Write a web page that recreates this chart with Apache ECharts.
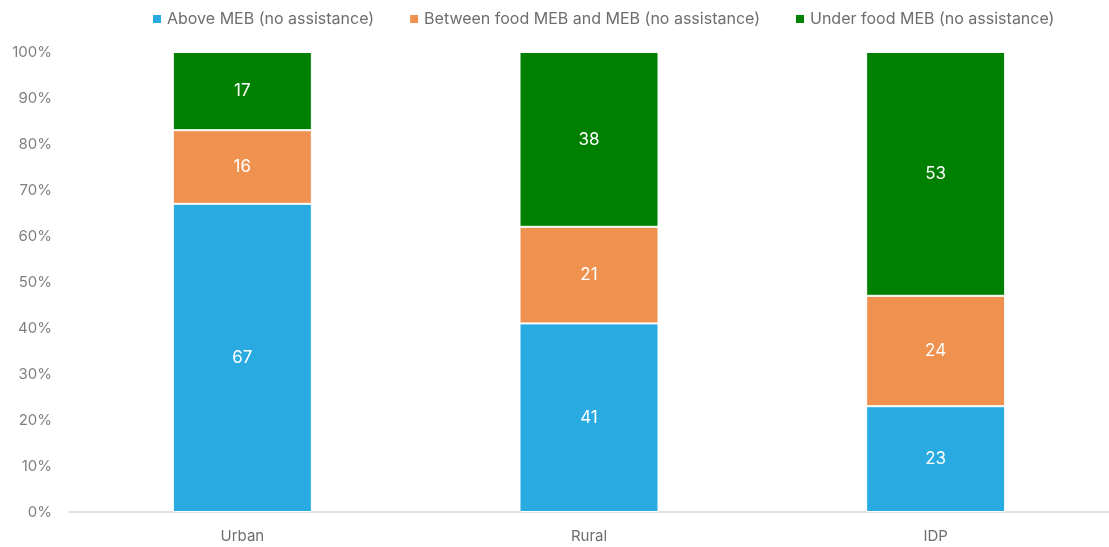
<!DOCTYPE html>
<html>
<head>
<meta charset="utf-8">
<script src="https://cdn.jsdelivr.net/npm/echarts@6/dist/echarts.min.js"></script>
<style>
  html, body { margin: 0; padding: 0; background: #fff; }
  #container { width: 1109px; height: 547px; }
</style>
</head>
<body>
<div id="container"></div>
<script>
var categories = ['Urban', 'Rural', 'IDP'];
var seriesNames = ['Above MEB (no assistance)', 'Between food MEB and MEB (no assistance)', 'Under food MEB (no assistance)'];
var aboveMeb = [67, 41, 23];
var betweenMeb = [16, 21, 24];
var underFoodMeb = [17, 38, 53];
var colors = ['#29abe2', '#ef9250', '#008000'];

var myChart = echarts.init(document.getElementById('container'));
var font = 'Inter, "Noto Sans", sans-serif';

function makeSeries(name, data, color) {
    return {
        name: name,
        type: 'bar',
        stack: 'total',
        barWidth: 139,
        data: data,
        itemStyle: { color: color, borderColor: '#ffffff', borderWidth: 1 },
        label: {
            show: true,
            position: 'inside',
            color: '#ffffff',
            fontSize: 17,
            fontFamily: font
        }
    };
}

var option = {
    animation: false,
    color: colors,
    legend: {
        left: 146,
        top: 6,
        itemWidth: 10,
        itemHeight: 10,
        itemGap: 34,
        icon: 'rect',
        textStyle: { color: '#6e6e6e', fontSize: 16, fontFamily: font },
        data: seriesNames
    },
    grid: {
        left: 69,
        right: -2,
        top: 52,
        bottom: 35
    },
    xAxis: {
        type: 'category',
        data: categories,
        axisLine: { lineStyle: { color: '#d9d9d9', width: 1.5 } },
        axisTick: { show: false },
        axisLabel: { color: '#6e6e6e', fontSize: 15, fontFamily: font, margin: 17 }
    },
    yAxis: {
        type: 'value',
        min: 0,
        max: 100,
        interval: 10,
        axisLine: { show: false },
        axisTick: { show: false },
        splitLine: { show: false },
        axisLabel: {
            color: '#7f7f7f',
            fontSize: 15,
            fontFamily: font,
            margin: 17,
            formatter: '{value}%'
        }
    },
    series: [
        makeSeries(seriesNames[0], aboveMeb, colors[0]),
        makeSeries(seriesNames[1], betweenMeb, colors[1]),
        makeSeries(seriesNames[2], underFoodMeb, colors[2])
    ]
};

myChart.setOption(option, true);
window.onresize = function () {
    myChart.resize();
};
</script>
</body>
</html>
